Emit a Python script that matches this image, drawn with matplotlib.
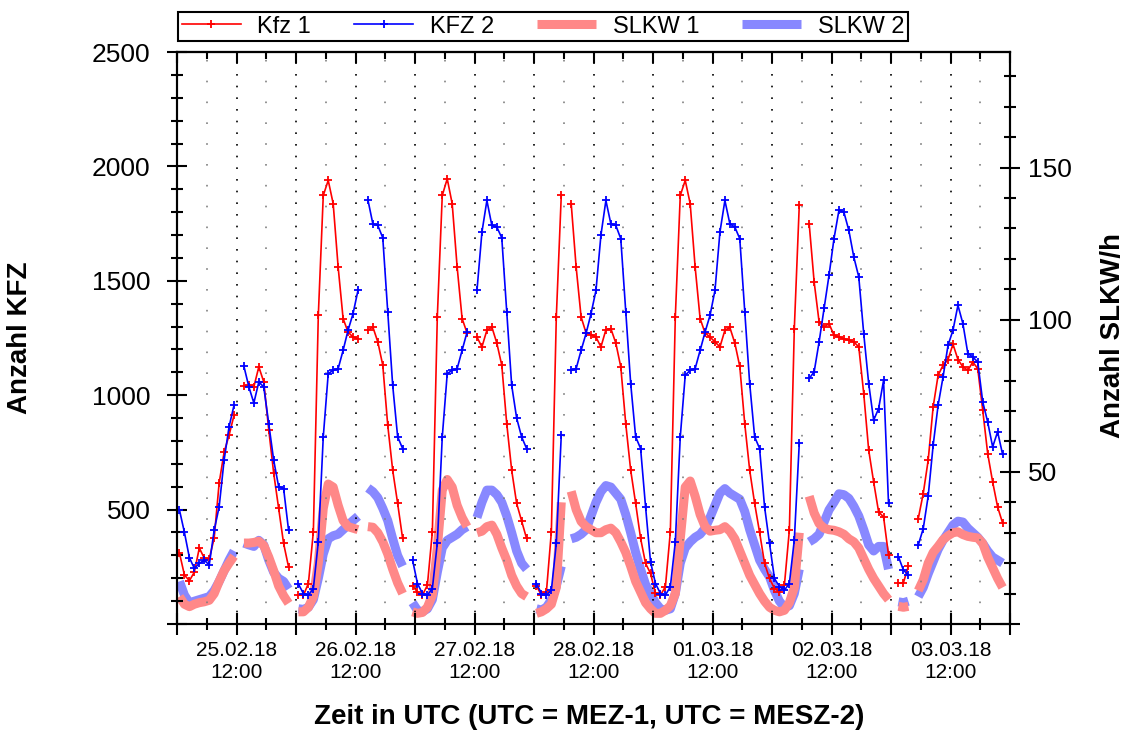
import numpy as np
import pandas as pd
import matplotlib
matplotlib.use("Agg")
import matplotlib.pyplot as plt
import matplotlib.dates as mdates
from matplotlib.ticker import MultipleLocator, FuncFormatter
from matplotlib.lines import Line2D

nan = np.nan

# Hourly values (UTC), first value 25.02.18 00:30, last 03.03.18 23:30
times = pd.date_range("2018-02-25 00:30", periods=168, freq="h")

# Anzahl KFZ, direction 1 (one row per day)
kfz1 = [
    310, 214, 189, 227, 332, 288, 284, 376, 616, 751, 825, 912, nan, 1039, 1043, 1036, 1124, 1058, 850, 659, 505, 352, 249, nan,
    126, 126, 177, 403, 1349, 1873, 1939, 1837, 1560, 1335, 1276, 1254, 1247, nan, 1284, 1298, 1233, 1131, 869, 672, 527, 374, nan, 166,
    140, 126, 170, 403, 1342, 1873, 1946, 1837, 1560, 1335, 1272, nan, 1254, 1211, 1284, 1298, 1228, 1131, 876, 672, 527, 450, 374, nan,
    166, 126, 140, 403, 1342, 1873, nan, 1837, 1560, 1342, 1272, 1265, 1254, 1211, 1286, 1291, 1228, 1124, 876, 672, 527, 374, 265, 221,
    134, 126, 163, 403, 1342, 1873, 1939, 1837, 1560, 1335, 1272, 1254, 1233, 1211, 1284, 1296, 1228, 1126, 876, 672, 527, 400, 265, 199,
    155, 141, 170, 410, 1291, 1830, nan, 1749, 1495, 1320, 1298, 1313, 1262, 1254, 1247, 1240, 1233, 1211, 1007, 760, 621, 490, 468, 301,
    nan, 180, 180, 253, nan, 461, 570, 716, 949, 1087, 1131, 1156, 1223, 1156, 1124, 1109, 1145, 1116, 934, 745, 621, 512, 442, nan,
]

# Anzahl KFZ, direction 2
kfz2 = [
    498, 400, 290, 243, 265, 279, 258, 410, 512, 716, 862, 956, nan, 1126, 1036, 966, 1058, 1036, 876, 716, 600, 592, 410, nan,
    174, 133, 126, 155, 359, 818, 1094, 1109, 1116, 1196, 1284, 1356, 1458, nan, 1854, 1749, 1742, 1688, 1364, 1043, 818, 767, nan, 280,
    177, 133, 126, 155, 352, 818, 1094, 1109, 1116, 1196, 1276, nan, 1458, 1713, 1851, 1742, 1735, 1688, 1364, 1043, 900, 818, 767, nan,
    177, 133, 126, 148, 352, 825, nan, 1109, 1116, 1196, 1270, 1356, 1458, 1700, 1851, 1749, 1742, 1684, 1364, 1051, 818, 767, 512, 272,
    177, 133, 126, 163, 359, 818, 1087, 1109, 1116, 1196, 1276, 1349, 1458, 1713, 1851, 1749, 1735, 1684, 1364, 1051, 818, 767, 512, 352,
    199, 163, 148, 177, 367, 789, nan, 1073, 1102, 1233, 1380, 1524, 1684, 1808, 1800, 1720, 1604, 1517, 1269, 1051, 891, 941, 1065, 527,
    nan, 294, 236, 214, nan, 345, 417, 559, 781, 956, 1080, 1218, 1284, 1393, 1313, 1182, 1167, 1145, 971, 883, 774, 840, 742, nan,
]

# Anzahl SLKW/h, direction 1
slkw1 = [
    9, 6.5, 5.7, 6.5, 7, 7.3, 7.8, 10, 14, 17.5, 20, 22.3, nan, 26.6, 26.6, 26.8, 27.2, 25.8, 22, 17.5, 12.5, 9.3, 6.8, nan,
    4, 4, 5.5, 9, 20, 38, 46, 45, 39, 34, 32, 31.5, 31, nan, 32, 31.8, 30, 27, 23, 18, 13.5, 10, nan, 4,
    3.5, 3.8, 5.5, 9.5, 25, 44, 47.5, 45, 39, 35, 32, nan, 30, 30.5, 32, 32.5, 29.5, 25, 21, 16, 12.5, 10, 9, nan,
    3.5, 4, 5, 6.5, 12, 40, nan, 43.6, 37.6, 33.7, 32, 31, 30, 30, 31, 31.5, 30, 27, 23.5, 19, 14, 10.5, 7, 5,
    3.5, 3.5, 4.5, 6, 10, 28, 45, 47, 42, 36, 32, 30.5, 30.8, 31, 32, 30.5, 28, 24, 20, 16, 13, 10, 7.5, 5.5,
    4.5, 4, 4.5, 7, 12, 30, nan, 42, 36.5, 33, 31.5, 31, 30.8, 30.3, 29.5, 28, 27, 25, 21.5, 18, 15, 12.5, 10, 8,
    nan, 5.8, 5.5, 5.8, nan, 11, 14.5, 20, 23.5, 25.5, 27.7, 29, 30, 30.3, 29.4, 28.8, 28.5, 28.3, 26.5, 22, 18.5, 15, 12, nan,
]

# Anzahl SLKW/h, direction 2
slkw2 = [
    14, 9.5, 7, 7.5, 8, 8.5, 9, 11, 14, 17.5, 21, 24, nan, 26.6, 26, 25.5, 27.5, 26, 21, 17, 15, 14, 11.5, nan,
    5, 4.8, 5.5, 8, 15, 23, 28, 29, 29.5, 31, 32.5, 34, 35.4, nan, 44.7, 43.5, 41.5, 38, 34, 28, 22.5, 19, nan, 7,
    4.5, 4, 5, 8, 17, 25, 27.5, 28.5, 29.5, 31, 32, nan, 35, 40, 44, 44, 42.5, 40, 35.5, 30, 24, 20, 18, nan,
    5, 4.6, 5.5, 8, 12.5, 19, nan, 28, 28.5, 29.5, 31, 35.5, 40, 43.5, 45.5, 45, 43, 41, 36, 30, 23.5, 18, 13, 10,
    7, 5, 4.5, 5, 10, 20, 25, 27, 28.5, 29.5, 31.5, 35, 39, 43, 44.5, 43, 42, 41, 37, 31, 26, 21, 18, 15.5,
    11, 7.5, 5.5, 6, 10, 18, nan, 27, 28, 29.5, 33.5, 37.5, 40, 42.8, 42.5, 41.3, 38.7, 35.5, 31, 26, 24, 25.5, 25.5, 18,
    nan, 7.3, 7, 7.5, nan, 9, 12, 16.5, 20.5, 24.5, 27.5, 30, 32.5, 33.8, 33.5, 31.5, 30, 28.5, 26.5, 24, 22, 21, 20, nan,
]

plt.rcParams["font.family"] = ["Liberation Sans", "DejaVu Sans"]

W, H = 1131, 733
fig = plt.figure(figsize=(W / 100, H / 100), dpi=100)
ax = fig.add_axes([177 / W, 1 - 624 / H, (1010 - 177) / W, (624 - 52) / H])
ax2 = ax.twinx()
# Kfz lines on top of the SLKW bands
ax.set_zorder(ax2.get_zorder() + 1)
ax.patch.set_visible(False)

ax2.plot(times, slkw2, color="#8888ff", lw=6.5, solid_capstyle="butt", label="SLKW 2")
ax2.plot(times, slkw1, color="#ff8888", lw=6.5, solid_capstyle="butt", label="SLKW 1")
ax.plot(times, kfz1, color="#ff0000", lw=1.2, marker="+", ms=6, mew=1.3, label="Kfz 1")
ax.plot(times, kfz2, color="#0000ff", lw=1.2, marker="+", ms=6, mew=1.3, label="KFZ 2")

ax.set_xlim(pd.Timestamp("2018-02-25 00:00"), pd.Timestamp("2018-03-04 00:00"))
ax.set_ylim(0, 2500)
ax2.set_ylim(0, 188)

# x axis: ticks every 12 h (labels at noon), minor every 6 h
def day_label(v, pos):
    d = mdates.num2date(v)
    return d.strftime("%d.%m.%y\n%H:%M") if d.hour == 12 else ""

ax.xaxis.set_major_locator(mdates.HourLocator(byhour=[0, 12]))
ax.xaxis.set_minor_locator(mdates.HourLocator(byhour=[6, 18]))
ax.xaxis.set_major_formatter(FuncFormatter(day_label))

ax.yaxis.set_major_locator(MultipleLocator(500))
ax.yaxis.set_minor_locator(MultipleLocator(100))
ax.yaxis.set_major_formatter(FuncFormatter(lambda v, p: "" if v == 0 else f"{v:.0f}"))
ax2.yaxis.set_major_locator(MultipleLocator(50))
ax2.yaxis.set_minor_locator(MultipleLocator(10))
ax2.yaxis.set_major_formatter(FuncFormatter(lambda v, p: "" if v == 0 else f"{v:.0f}"))

ax.tick_params(axis="y", which="major", direction="inout", length=14, width=1.5, labelsize=19, pad=12)
ax.tick_params(axis="y", which="minor", direction="inout", length=8, width=1.5)
ax.tick_params(axis="x", which="major", direction="inout", length=16, width=1.5, labelsize=15, pad=4)
ax.tick_params(axis="x", which="minor", direction="inout", length=9, width=1.5)
ax2.tick_params(axis="y", which="major", direction="inout", length=14, width=1.5, labelsize=19, pad=6)
ax2.tick_params(axis="y", which="minor", direction="inout", length=8, width=1.5)

# ticks along the top border
top = ax.secondary_xaxis("top")
top.xaxis.set_major_locator(mdates.HourLocator(byhour=[0, 12]))
top.xaxis.set_minor_locator(mdates.HourLocator(byhour=[6, 18]))
top.tick_params(which="both", direction="in", width=1.5, labeltop=False, labelbottom=False)
top.tick_params(which="major", length=8)
top.tick_params(which="minor", length=5)
top.spines["top"].set_linewidth(1.5)

for a in (ax, ax2):
    for s in a.spines.values():
        s.set_linewidth(1.5)

# dotted vertical grid
ax.grid(which="major", axis="x", color="black", linestyle=(0, (1, 6)), linewidth=1.2)
ax.grid(which="minor", axis="x", color="#808080", linestyle=(0, (1, 11.5)), linewidth=1.2)

fig.text(20 / W, 1 - 338 / H, "Anzahl KFZ", rotation=90, ha="center", va="center",
         fontsize=20, fontweight="bold")
fig.text(1113 / W, 1 - 335 / H, "Anzahl SLKW/h", rotation=90, ha="center", va="center",
         fontsize=20, fontweight="bold")
fig.text(589 / W, 1 - 717 / H, "Zeit in UTC (UTC = MEZ-1, UTC = MESZ-2)", ha="center", va="center",
         fontsize=20, fontweight="bold")

handles = [
    Line2D([], [], color="#ff0000", lw=1.2, marker="+", ms=6, mew=1.3),
    Line2D([], [], color="#0000ff", lw=1.2, marker="+", ms=6, mew=1.3),
    Line2D([], [], color="#ff8888", lw=6.5, solid_capstyle="butt"),
    Line2D([], [], color="#8888ff", lw=6.5, solid_capstyle="butt"),
]
leg = fig.legend(handles, ["Kfz 1", "KFZ 2", "SLKW 1", "SLKW 2"], ncol=4, mode="expand",
                 loc="upper left", bbox_to_anchor=(178 / W, 1 - 41 / H, (908 - 178) / W, 29 / H),
                 fontsize=17, handlelength=2.5, handletextpad=0.7, numpoints=1,
                 borderaxespad=0, borderpad=0.15, fancybox=False, edgecolor="black", framealpha=1)
leg.get_frame().set_linewidth(1.5)

fig.savefig("out.png", dpi=100)
